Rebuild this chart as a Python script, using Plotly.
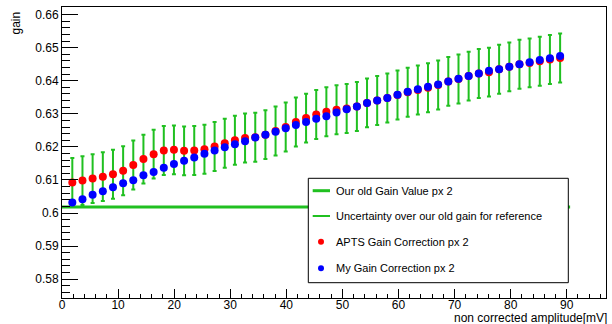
import plotly.graph_objects as go

# Amplitude points (non corrected amplitude, mV)
amplitude = [1.84, 3.65, 5.46, 7.28, 9.09, 10.90, 12.71, 14.52, 16.34, 18.15,
             19.96, 21.77, 23.58, 25.40, 27.21, 29.02, 30.83, 32.64, 34.46, 36.27,
             38.08, 39.89, 41.70, 43.52, 45.33, 47.14, 48.95, 50.76, 52.58, 54.39,
             56.20, 58.01, 59.82, 61.64, 63.45, 65.26, 67.07, 68.88, 70.70, 72.51,
             74.32, 76.13, 77.94, 79.76, 81.57, 83.38, 85.19, 87.00, 88.82]

# APTS gain correction, pixel 2
apts_gain = [0.6092, 0.6098, 0.6104, 0.6110, 0.6117, 0.6128, 0.6145, 0.6163, 0.6178, 0.6189,
             0.6191, 0.6188, 0.6189, 0.6193, 0.6201, 0.6211, 0.6220, 0.6227, 0.6229, 0.6237,
             0.6248, 0.6260, 0.6275, 0.6287, 0.6298, 0.6306, 0.6312, 0.6316, 0.6322, 0.6333,
             0.6340, 0.6348, 0.6357, 0.6365, 0.6372, 0.6379, 0.6387, 0.6398, 0.6405, 0.6414,
             0.6422, 0.6426, 0.6435, 0.6442, 0.6450, 0.6454, 0.6459, 0.6464, 0.6469]

# Own gain correction, pixel 2
my_gain = [0.6032, 0.6042, 0.6055, 0.6066, 0.6078, 0.6090, 0.6099, 0.6114, 0.6124, 0.6137,
           0.6148, 0.6158, 0.6168, 0.6179, 0.6189, 0.6199, 0.6208, 0.6217, 0.6228, 0.6237,
           0.6246, 0.6256, 0.6266, 0.6275, 0.6285, 0.6293, 0.6304, 0.6314, 0.6322, 0.6333,
           0.6340, 0.6348, 0.6358, 0.6367, 0.6374, 0.6382, 0.6389, 0.6398, 0.6406, 0.6414,
           0.6422, 0.6430, 0.6435, 0.6442, 0.6450, 0.6456, 0.6463, 0.6468, 0.6475]

# Old gain value and its uncertainty
old_gain = 0.6018
old_gain_uncertainty = 0.0074
old_gain_x = [0.0, 90.6]

x_tick_vals = [0, 10, 20, 30, 40, 50, 60, 70, 80, 90]
x_tick_text = ["0", "10", "20", "30", "40", "50", "60", "70", "80", "90"]
y_tick_vals = [0.58, 0.59, 0.60, 0.61, 0.62, 0.63, 0.64, 0.65, 0.66]
y_tick_text = ["0.58", "0.59", "0.6", "0.61", "0.62", "0.63", "0.64", "0.65", "0.66"]

legend_labels = ["Our old Gain Value px 2",
                 "Uncertainty over our old gain for reference",
                 "APTS Gain Correction px 2",
                 "My Gain Correction px 2"]

GREEN = "#20c020"
RED = "#ff0000"
BLUE = "#0000ff"
FONT = "Liberation Sans, Arial, Helvetica, sans-serif"

W, H = 612, 324
ML, MR, MT, MB = 62, 6, 7, 26
PW, PH = W - ML - MR, H - MT - MB


def px_x(px):
    return (px - ML) / PW


def px_y(py):
    return (H - MB - py) / PH


fig = go.Figure()

# Old gain reference line
fig.add_trace(go.Scatter(
    x=old_gain_x, y=[old_gain] * len(old_gain_x), mode="lines",
    line=dict(color=GREEN, width=3), showlegend=False, hoverinfo="skip"))

# Uncertainty bars around the APTS points
fig.add_trace(go.Scatter(
    x=amplitude, y=apts_gain, mode="markers",
    marker=dict(size=1, color="rgba(0,0,0,0)"),
    error_y=dict(type="constant", value=old_gain_uncertainty, color=GREEN,
                 thickness=2, width=2),
    showlegend=False))

fig.add_trace(go.Scatter(
    x=amplitude, y=apts_gain, mode="markers",
    marker=dict(size=8, color=RED), showlegend=False))

fig.add_trace(go.Scatter(
    x=amplitude, y=my_gain, mode="markers",
    marker=dict(size=8, color=BLUE), showlegend=False))

# Legend box drawn by hand
shapes = [dict(type="rect", xref="paper", yref="paper",
               x0=px_x(308.3), x1=px_x(568.3), y0=px_y(282.7), y1=px_y(178.3),
               line=dict(color="black", width=1), fillcolor="white", layer="above")]
row_y = [190.7, 216.0, 241.7, 268.3]
shapes.append(dict(type="line", xref="paper", yref="paper",
                   x0=px_x(312.7), x1=px_x(330), y0=px_y(row_y[0]), y1=px_y(row_y[0]),
                   line=dict(color=GREEN, width=3), layer="above"))
shapes.append(dict(type="line", xref="paper", yref="paper",
                   x0=px_x(312.7), x1=px_x(330), y0=px_y(row_y[1]), y1=px_y(row_y[1]),
                   line=dict(color=GREEN, width=2), layer="above"))
for ry, col in ((row_y[2], RED), (row_y[3], BLUE)):
    shapes.append(dict(type="circle", xref="paper", yref="paper",
                       xsizemode="pixel", ysizemode="pixel",
                       xanchor=px_x(321), yanchor=px_y(ry),
                       x0=-3, x1=3, y0=-3, y1=3,
                       line=dict(color=col, width=0), fillcolor=col, layer="above"))

annotations = []
for ry, label in zip(row_y, legend_labels):
    annotations.append(dict(xref="paper", yref="paper", x=px_x(334.3), y=px_y(ry),
                            xanchor="left", yanchor="middle", text=label,
                            showarrow=False, font=dict(size=11, color="black", family=FONT)))

# Axis titles (ROOT style: at the end of each axis)
annotations.append(dict(xref="paper", yref="paper", x=1, y=0, xanchor="right", yanchor="top",
                        text="non corrected amplitude[mV]", showarrow=False, xshift=3, yshift=-11,
                        font=dict(size=12, color="black", family=FONT)))
annotations.append(dict(xref="paper", yref="paper", x=0, y=1, xanchor="center", yanchor="top",
                        text="gain", textangle=-90, showarrow=False, xshift=-47, yshift=-3,
                        font=dict(size=12, color="black", family=FONT)))

fig.update_layout(
    width=W, height=H,
    margin=dict(l=ML, r=MR, t=MT, b=MB),
    paper_bgcolor="white", plot_bgcolor="white",
    font=dict(family=FONT, size=12, color="black"),
    shapes=shapes, annotations=annotations,
    xaxis=dict(range=[0, 97], showgrid=False, zeroline=False,
               showline=True, linecolor="black", linewidth=1, mirror=True,
               ticks="inside", ticklen=9, tickcolor="black", tickwidth=1,
               tickvals=x_tick_vals, ticktext=x_tick_text, ticklabelstandoff=-4,
               minor=dict(ticks="inside", ticklen=4, dtick=2, tickcolor="black", showgrid=False),
               tickfont=dict(size=12)),
    yaxis=dict(range=[0.5743, 0.6623], showgrid=False, zeroline=False,
               showline=True, linecolor="black", linewidth=1, mirror=True,
               ticks="inside", ticklen=16, tickcolor="black", tickwidth=1,
               tickvals=y_tick_vals, ticktext=y_tick_text,
               minor=dict(ticks="inside", ticklen=8, dtick=0.002, tick0=0.58,
                          tickcolor="black", showgrid=False),
               tickfont=dict(size=12)),
)

fig.write_html("out.html")
